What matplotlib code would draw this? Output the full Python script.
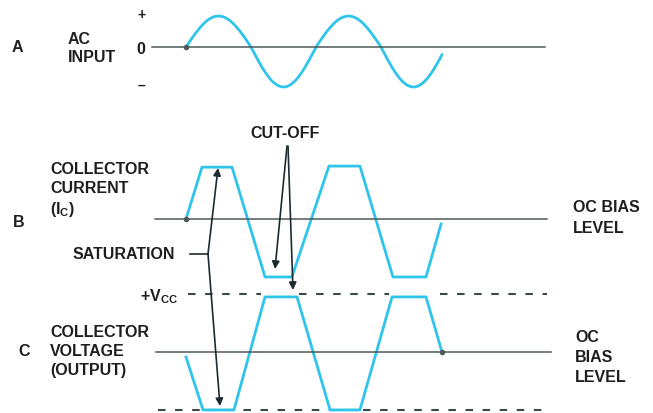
import numpy as np
import matplotlib
matplotlib.use("Agg")
import matplotlib.pyplot as plt

plt.rcParams['font.family'] = ['Liberation Sans', 'DejaVu Sans']
plt.rcParams['mathtext.fontset'] = 'custom'
plt.rcParams['mathtext.rm'] = 'Liberation Sans:bold'
plt.rcParams['mathtext.it'] = 'Liberation Sans:bold'
plt.rcParams['mathtext.bf'] = 'Liberation Sans:bold'

# ---------------- data (time in cycles of the input, amplitude in arbitrary units) ----
ac_cycles = 1.97          # length of the drawn input sine
ac_pos_amp = 0.86         # positive half-cycle height
ac_neg_amp = 1.11         # negative half-cycle depth

ic_t = [0.0, 0.123, 0.354, 0.608, 0.815, 1.100, 1.338, 1.592, 1.846, 1.962]
ic_v = [0.0, 1.44, 1.44, -1.61, -1.61, 1.47, 1.47, -1.61, -1.61, -0.14]

vc_t = [0.0, 0.131, 0.369, 0.608, 0.854, 1.108, 1.338, 1.585, 1.846, 1.969]
vc_v = [-0.14, -1.61, -1.61, 1.53, 1.53, -1.61, -1.61, 1.53, 1.53, 0.0]

vcc_level = 1.61
low_level = -1.61
vcc_segments = [(0.015, 0.58), (0.87, 1.56), (1.95, 2.78)]
low_segment = (-0.215, 2.78)

baseline_A = (-0.26, 2.76)
baseline_B = (-0.24, 2.78)
baseline_C = (-0.23, 2.81)

# ---------------- layout ----------------
W, H = 653, 414
PX_PER_CYCLE = 130.0
X0_PX = 186.0
PX_PER_UNIT = 36.0
BASE_PX = {'A': 48, 'B': 220, 'C': 353}

CYAN = '#2fc5ea'
LINE = '#4f5858'
DARK = '#1c2b30'
TEXT = '#1e1e1e'

fig = plt.figure(figsize=(W / 100, H / 100), dpi=100)
fig.patch.set_facecolor('white')


def panel_axes(base):
    ax = fig.add_axes([0, 0, 1, 1])
    ax.set_xlim(-X0_PX / PX_PER_CYCLE, (W - X0_PX) / PX_PER_CYCLE)
    ax.set_ylim(-(H - base) / PX_PER_UNIT, base / PX_PER_UNIT)
    ax.axis('off')
    ax.patch.set_alpha(0)
    return ax


axA = panel_axes(BASE_PX['A'])
axB = panel_axes(BASE_PX['B'])
axC = panel_axes(BASE_PX['C'])

# Panel A: AC input sine
t = np.linspace(0, ac_cycles, 400)
s = np.sin(2 * np.pi * t)
v = np.where(s > 0, s * ac_pos_amp, s * ac_neg_amp)
axA.plot(t, v, color=CYAN, lw=2.0, solid_capstyle='round', zorder=2)
axA.plot(list(baseline_A), [0, 0], color=LINE, lw=1.1, zorder=3)
axA.plot([0], [0], 'o', color=LINE, ms=3, zorder=4)

# Panel B: collector current
axB.plot(ic_t, ic_v, color=CYAN, lw=2.0, solid_joinstyle='round', zorder=2)
axB.plot(list(baseline_B), [0, 0], color=LINE, lw=1.1, zorder=3)
axB.plot([ic_t[0]], [ic_v[0]], 'o', color=LINE, ms=3, zorder=4)

# Panel C: collector voltage
axC.plot(vc_t, vc_v, color=CYAN, lw=2.0, solid_joinstyle='round', zorder=2)
axC.plot(list(baseline_C), [0, 0], color=LINE, lw=1.1, zorder=3)
axC.plot([vc_t[-1]], [vc_v[-1]], 'o', color=LINE, ms=3, zorder=4)
for a, b in vcc_segments:
    axC.plot([a, b], [vcc_level, vcc_level], color='#3d4848', lw=1.5,
             linestyle=(0, (3.6, 4.6)), zorder=1)
axC.plot(list(low_segment), [low_level, low_level], color='#3d4848', lw=1.5,
         linestyle=(0, (3.6, 4.6)), zorder=1)

# ---------------- overlay: labels and arrows (pixel space) ----------------
ov = fig.add_axes([0, 0, 1, 1])
ov.set_xlim(0, W)
ov.set_ylim(H, 0)
ov.axis('off')
ov.patch.set_alpha(0)

FS = 11.5


def txt(x, y, s, ha='left', size=FS):
    ov.text(x, y, s, ha=ha, va='center', fontsize=size, fontweight='bold',
            color=TEXT)


txt(12, 47, 'A')
txt(68, 40, 'AC')
txt(68, 58, 'INPUT')
txt(142, 15, '+', ha='center', size=10)
txt(141, 50, '0', ha='center')
txt(141, 86, '\u2013', ha='center', size=10)

txt(13, 223, 'B')
txt(50, 170, 'COLLECTOR')
txt(50, 189, 'CURRENT')
txt(50, 210, r'(I$_{\mathrm{C}}$)')

txt(573, 208, 'OC BIAS')
txt(573, 229, 'LEVEL')

txt(73, 255, 'SATURATION')
txt(250, 134, 'CUT-OFF')

txt(140, 297, r'+V$_{\mathrm{CC}}$')

txt(18, 352, 'C')
txt(50, 333, 'COLLECTOR')
txt(50, 352, 'VOLTAGE')
txt(50, 371, '(OUTPUT)')

txt(575, 338, 'OC')
txt(575, 358, 'BIAS')
txt(575, 378, 'LEVEL')

arrow_kw = dict(arrowstyle='-|>', color=DARK, lw=1.2, mutation_scale=11,
                shrinkA=0, shrinkB=0)
# saturation bracket
ov.plot([190, 208], [255, 255], color=DARK, lw=1.2)
ov.annotate('', xy=(218, 169), xytext=(208, 255), arrowprops=arrow_kw)
ov.annotate('', xy=(220, 407), xytext=(208, 255), arrowprops=arrow_kw)
# cut-off arrows
ov.annotate('', xy=(275, 270), xytext=(287, 147), arrowprops=arrow_kw)
ov.annotate('', xy=(293, 291), xytext=(288, 147), arrowprops=arrow_kw)

fig.savefig('out.png', dpi=100, facecolor='white')
